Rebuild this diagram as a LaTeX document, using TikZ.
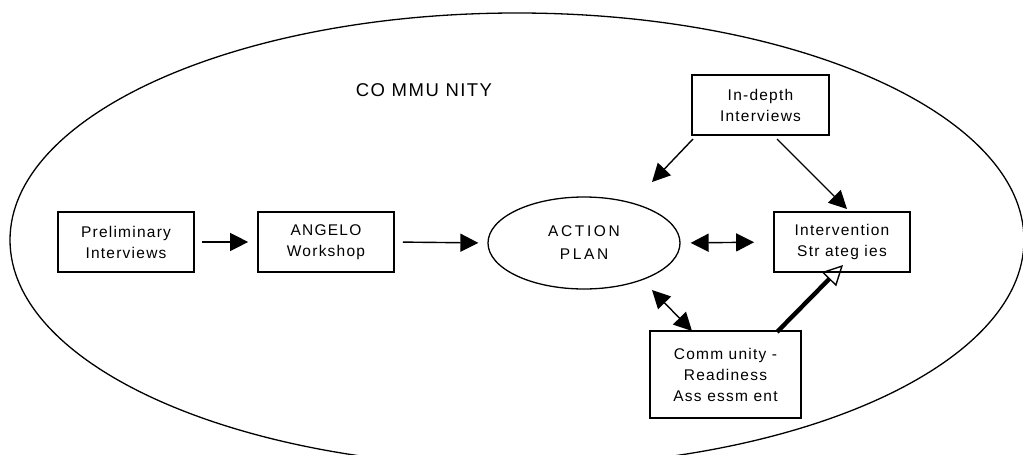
\documentclass[tikz,border=0pt]{standalone}
\usepackage{fontspec}
\setmainfont{Liberation Sans}
\newfontfamily\boxfont[LetterSpace=8]{Liberation Sans}
\newfontfamily\planfont[LetterSpace=17]{Liberation Sans}
\usetikzlibrary{arrows.meta,shapes.geometric}
\begin{document}
\begin{tikzpicture}[x=1pt,y=-1pt,
  box/.style={draw,line width=1.7pt,inner sep=0pt,align=center,
    font=\boxfont\fontsize{15.5}{21}\selectfont},
  arr/.style={line width=1.4pt,-{Triangle[length=18pt,width=18pt]}},
  darr/.style={line width=1.4pt,{Triangle[length=18pt,width=18pt]}-{Triangle[length=18pt,width=18pt]}},
  thickarr/.style={line width=4.4pt,-{Triangle[open,length=20pt,width=20pt,line width=1.4pt]}}
]
\useasboundingbox (0,0) rectangle (1023,455);
\clip (0,0) rectangle (1023,455);
\fill[white] (0,0) rectangle (1023,455);
% community ellipse
\draw[line width=1.3pt] (517,240) ellipse [x radius=507, y radius=227];
\node[font=\boxfont\fontsize{18.5}{22}\selectfont] (comm) at (424,90) {CO MMU NITY};
% boxes
\node[box,minimum width=136pt,minimum height=60pt] (pre) at (126,242) {Preliminary\\Interviews};
\node[box,minimum width=136pt,minimum height=60pt] (ang) at (326,242) {ANGELO\\Workshop};
\node[draw,line width=1.3pt,ellipse,minimum width=192pt,minimum height=92pt,inner sep=0pt,align=center,
  font=\planfont\fontsize{15.5}{23}\selectfont] (plan) at (584,243) {ACTION\\PLAN};
\node[box,minimum width=136pt,minimum height=60pt] (int) at (842,242) {Intervention\\Str ateg ies};
\node[box,minimum width=137pt,minimum height=60pt] (ind) at (760.5,105) {In-depth\\Interviews};
\node[box,minimum width=151pt,minimum height=87pt] (cra) at (725.5,374.5) {Comm unity -\\Readiness\\Ass essm ent};
% arrow end points
\coordinate (s1) at (693,139);
\coordinate (t1) at (652,182);
\coordinate (s2) at (777,139);
\coordinate (t2) at (847,209);
\coordinate (s3) at (652,290);
\coordinate (t3) at (692,331);
\coordinate (s4) at (777,332);
\coordinate (t4) at (843,265);
% connectors
\draw[arr,shorten <=7pt,shorten >=9pt] (pre.east) -- (ang.west);
\draw[arr,shorten <=8pt,shorten >=9pt] (ang.east) -- (plan.west);
\draw[darr,shorten <=10pt,shorten >=19pt] (plan.east) -- (int.west);
\draw[arr] (s1) -- (t1);
\draw[arr] (s2) -- (t2);
\draw[darr] (s3) -- (t3);
\draw[thickarr] (s4) -- (t4);
\end{tikzpicture}
\end{document}
